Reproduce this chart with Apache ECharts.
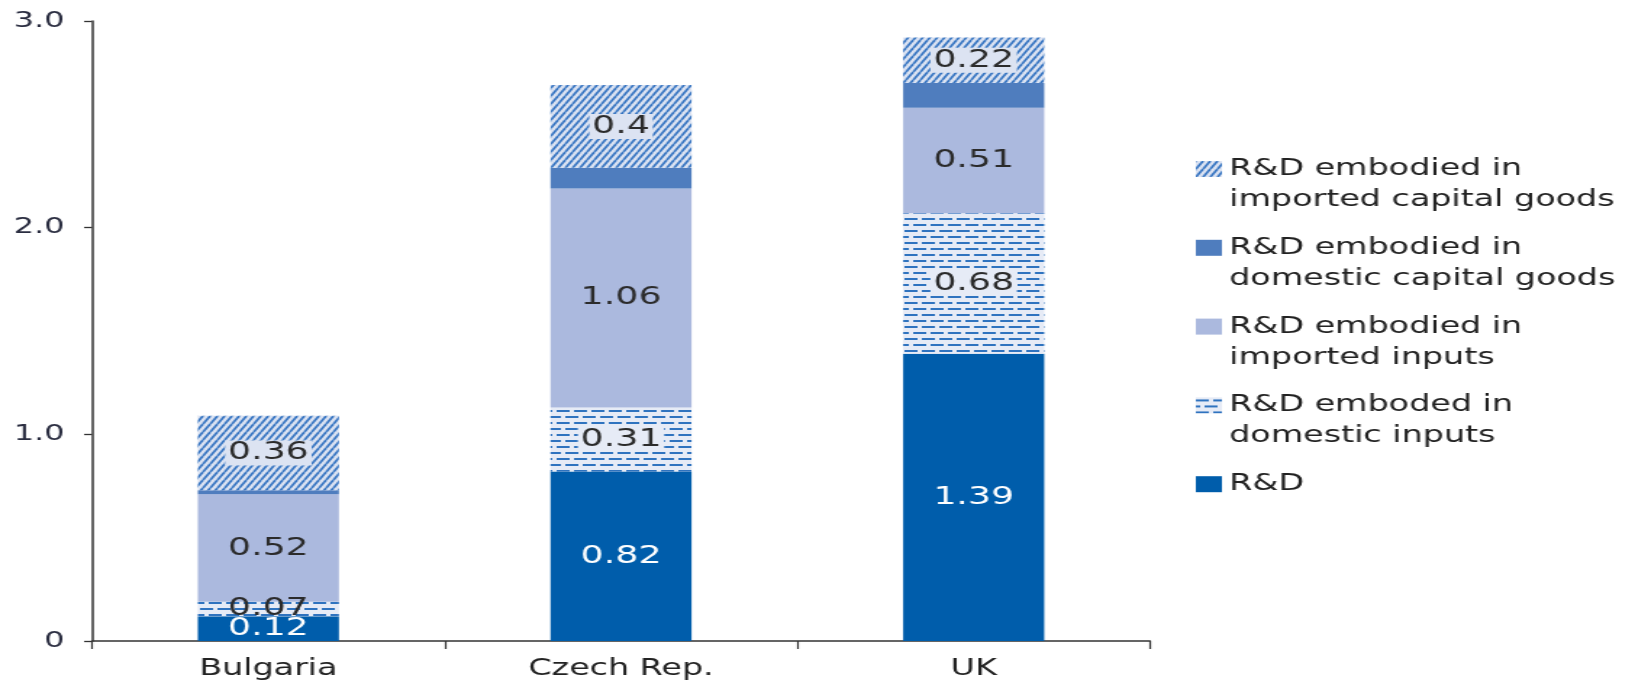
<!DOCTYPE html>
<html><head><meta charset="utf-8">
<script src="https://cdn.jsdelivr.net/npm/echarts@6/dist/echarts.min.js"></script>
<style>
html,body{margin:0;padding:0;background:#fff;overflow:hidden}
#chart{width:1128px;height:683px;transform-origin:0 0;transform:scaleX(1.449468)}
</style>
</head><body><div id="chart"></div>
<script>
const categories = ['Bulgaria', 'Czech Rep.', 'UK'];
const seriesNames = [
  'R&D',
  'R&D emboded in\ndomestic inputs',
  'R&D embodied in\nimported inputs',
  'R&D embodied in\ndomestic capital goods',
  'R&D embodied in\nimported capital goods'
];
const rd = [0.12, 0.82, 1.39];
const domesticInputs = [0.07, 0.31, 0.68];
const importedInputs = [0.52, 1.06, 0.51];
const domesticCapital = [0.02, 0.10, 0.12];
const importedCapital = [0.36, 0.4, 0.22];
const yTickLabels = ['0', '1.0', '2.0', '3.0'];

const FONT = 'DejaVu Sans';

function hatchPattern() {
  const w = 5, h = 8;
  const c = document.createElement('canvas');
  c.width = w; c.height = h;
  const g = c.getContext('2d');
  g.fillStyle = '#DCE3F2'; g.fillRect(0, 0, w, h);
  g.strokeStyle = '#3A77C3'; g.lineWidth = 1.8;
  for (let k = -1; k <= 1; k++) {
    g.beginPath(); g.moveTo(k * w, h); g.lineTo(k * w + w, 0); g.stroke();
  }
  return { image: c, repeat: 'repeat' };
}
function dashPattern() {
  const w = 12, h = 12;
  const c = document.createElement('canvas');
  c.width = w; c.height = h;
  const g = c.getContext('2d');
  g.fillStyle = '#E6EBF6'; g.fillRect(0, 0, w, h);
  g.fillStyle = '#2F73BF';
  g.fillRect(0, 2, 9, 2);
  g.fillRect(6, 8, 6, 2);
  g.fillRect(0, 8, 3, 2);
  return { image: c, repeat: 'repeat' };
}

const valuesList = [rd, domesticInputs, importedInputs, domesticCapital, importedCapital];
const colors = ['#005DAB', dashPattern(), '#ABB9DE', '#4F7DBE', hatchPattern()];
const labelColors = ['#ffffff', '#2b2b2b', '#2b2b2b', '#2b2b2b', '#2b2b2b'];
const labelBg = [null, '#E6EBF6', null, null, '#DCE3F2'];
const showLabel = [true, true, true, false, true];

const series = valuesList.map((vals, si) => ({
  name: seriesNames[si],
  type: 'bar',
  stack: 'total',
  barWidth: '40%',
  itemStyle: { color: colors[si] },
  emphasis: { disabled: true },
  label: {
    show: showLabel[si],
    position: 'inside',
    fontFamily: FONT,
    fontSize: 25,
    color: labelColors[si],
    backgroundColor: labelBg[si] || 'transparent',
    padding: labelBg[si] ? [0, 2, 0, 2] : 0
  },
  data: vals.map(v => (labelBg[si] && v < 0.1) ? { value: v, label: { backgroundColor: 'transparent' } } : v)
}));

const chart = echarts.init(document.getElementById('chart'));
chart.setOption({
  animation: false,
  backgroundColor: '#fff',
  grid: { left: 63.5, right: 334.6, top: 21, bottom: 42 },
  xAxis: {
    type: 'category',
    data: categories,
    axisLine: { lineStyle: { color: '#333', width: 1.5 } },
    axisTick: { show: true, length: 8, lineStyle: { color: '#333', width: 1.2 } },
    axisLabel: { fontFamily: FONT, fontSize: 23, color: '#222', margin: 17 }
  },
  yAxis: {
    type: 'value',
    min: 0, max: 3, interval: 1,
    axisLine: { show: true, lineStyle: { color: '#333', width: 1.5 } },
    axisTick: { show: true, length: 5.5, lineStyle: { color: '#333', width: 1.3 } },
    splitLine: { show: false },
    axisLabel: {
      fontFamily: FONT, fontSize: 22, color: '#2a2d40', margin: 19,
      formatter: v => yTickLabels[Math.round(v)]
    }
  },
  legend: {
    orient: 'vertical',
    left: 825, top: 122.5, padding: 0,
    itemGap: -14.2, itemWidth: 18, itemHeight: 16, icon: 'rect',
    data: seriesNames.slice().reverse(),
    formatter: n => ' \n' + n + (n.indexOf('\n') < 0 ? '\n ' : ''),
    textStyle: { fontFamily: FONT, fontSize: 23, color: '#222', lineHeight: 31 },
    selectedMode: false
  },
  series: series
});
</script>
</body></html>
